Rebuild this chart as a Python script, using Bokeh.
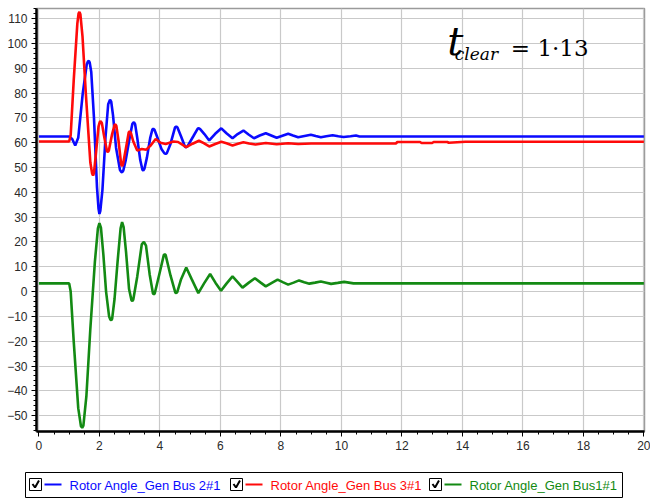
from bokeh.plotting import figure
from bokeh.models import Range1d, SingleIntervalTicker, Label
from bokeh.layouts import column
from bokeh.core.properties import value
from bokeh.embed import file_html
from bokeh.resources import INLINE

# ---------------- data ----------------
series_names = ["Rotor Angle_Gen Bus 2#1", "Rotor Angle_Gen Bus 3#1", "Rotor Angle_Gen Bus1#1"]
series_colors = ["#0a0aff", "#ff0a0a", "#138a13"]

t_bus2 = [0, 1.0, 1.1, 1.2, 1.3, 1.45, 1.58, 1.62, 1.65, 1.68, 1.73, 1.82, 1.92, 1.97, 2.0, 2.03, 2.1,
          2.2, 2.29, 2.35, 2.39, 2.45, 2.55, 2.68, 2.72, 2.75, 2.79, 2.87, 3.0, 3.09, 3.14, 3.18,
          3.25, 3.35, 3.42, 3.45, 3.49, 3.57, 3.68, 3.75, 3.78, 3.82, 3.92, 4.05, 4.15, 4.19, 4.23,
          4.35, 4.5, 4.54, 4.58, 4.7, 4.83, 4.87, 4.91, 5.1, 5.25, 5.29, 5.33, 5.47, 5.63, 5.82,
          6.03, 6.2, 6.4, 6.57, 6.76, 6.93, 7.11, 7.3, 7.5, 7.68, 7.86, 8.05, 8.24, 8.4, 8.57,
          8.78, 8.99, 9.15, 9.32, 9.5, 9.71, 9.9, 10.07, 10.3, 10.48, 10.6, 20.0]
angle_bus2 = [62.5, 62.5, 61.5, 58.9, 62.0, 80.0, 91.5, 92.7, 93.0, 92.3, 88.5, 70.0, 42.0, 33.5, 31.3, 32.5, 41.0,
              62.0, 75.5, 77.3, 76.5, 71.0, 58.0, 49.0, 48.3, 48.1, 48.8, 53.0, 62.0, 67.6, 68.3, 67.5,
              62.0, 53.0, 49.2, 48.8, 49.6, 54.0, 62.0, 65.3, 65.6, 65.2, 62.0, 57.5, 55.7, 55.5, 55.8,
              59.5, 66.2, 66.5, 66.1, 62.5, 58.4, 58.2, 58.5, 62.5, 65.7, 65.8, 65.5, 63.5, 60.9, 63.5,
              65.8, 63.8, 61.8, 63.5, 64.9, 63.3, 61.8, 62.9, 63.8, 62.9, 62.0, 62.8, 63.6, 62.9, 62.2,
              62.7, 63.2, 62.7, 62.2, 62.6, 63.0, 62.6, 62.3, 62.6, 62.9, 62.5, 62.5]

t_bus3 = [0, 1.0, 1.05, 1.15, 1.27, 1.31, 1.34, 1.37, 1.44, 1.55, 1.7, 1.76, 1.79, 1.82, 1.88, 1.97,
          2.01, 2.04, 2.08, 2.15, 2.25, 2.28, 2.31, 2.42, 2.5, 2.53, 2.56, 2.63, 2.72, 2.75, 2.78,
          2.88, 2.97, 3.0, 3.04, 3.12, 3.25, 3.4, 3.55, 3.7, 3.86, 4.02, 4.19, 4.45, 4.6,
          4.87, 5.08, 5.29, 5.45, 5.63, 5.83, 6.03, 6.2, 6.4, 6.58, 6.76, 6.95, 7.16, 7.5, 7.86,
          8.24, 8.57, 9.0, 11.8, 11.85, 12.6, 12.65, 13.0, 13.05, 13.5, 13.55, 14.1, 20.0]
angle_bus3 = [60.5, 60.5, 63.0, 85.0, 108.0, 112.0, 112.7, 111.8, 103.0, 80.0, 52.0, 47.5, 46.8, 47.8, 55.0, 66.5,
              68.3, 68.7, 68.0, 63.0, 56.6, 56.2, 56.8, 63.5, 67.1, 67.4, 66.8, 61.0, 51.2, 50.6, 51.3,
              58.0, 64.2, 64.6, 64.0, 60.5, 56.9, 57.5, 57.2, 59.0, 61.5, 60.0, 59.5, 60.5, 60.3,
              58.2, 59.6, 60.8, 59.8, 58.5, 59.5, 60.4, 59.8, 58.9, 59.6, 60.2, 59.7, 59.3, 59.9, 59.4,
              59.8, 59.5, 59.7, 59.7, 60.3, 60.3, 59.9, 59.9, 60.3, 60.3, 60.0, 60.4, 60.4]

t_bus1 = [0, 1.0, 1.05, 1.15, 1.3, 1.39, 1.43, 1.47, 1.57, 1.7, 1.85, 1.95, 2.0, 2.05, 2.13, 2.22, 2.32,
          2.36, 2.39, 2.42, 2.5, 2.6, 2.7, 2.75, 2.8, 2.88, 2.98, 3.06, 3.09, 3.12, 3.25, 3.4, 3.47,
          3.54, 3.66, 3.77, 3.8, 3.83, 4.0, 4.13, 4.16, 4.19, 4.35, 4.51, 4.54, 4.57, 4.7, 4.87,
          5.05, 5.27, 5.47, 5.66, 5.84, 6.02, 6.2, 6.4, 6.57, 6.73, 6.93, 7.14, 7.32, 7.5, 7.7,
          7.89, 8.06, 8.24, 8.42, 8.6, 8.77, 8.94, 9.13, 9.32, 9.5, 9.66, 9.88, 10.09, 10.4, 20.0]
angle_bus1 = [3.3, 3.3, 0.0, -20.0, -47.0, -54.3, -54.9, -54.0, -42.0, -15.0, 12.0, 25.5, 27.6, 25.8, 15.0, 0.0, -10.0,
              -11.3, -11.6, -11.0, -3.0, 12.0, 25.5, 28.0, 26.0, 16.0, 1.0, -3.5, -3.8, -3.2, 6.0, 19.0, 20.0,
              18.5, 7.0, -0.8, -1.1, -0.7, 8.0, 14.8, 15.0, 14.7, 6.5, -0.4, -0.6, -0.3, 5.0, 9.7,
              5.0, -0.6, 3.5, 7.1, 3.5, 0.3, 3.2, 6.1, 3.8, 1.6, 3.5, 5.4, 3.7, 2.1, 3.5,
              4.8, 3.8, 2.8, 3.6, 4.5, 3.8, 3.2, 3.6, 4.1, 3.6, 3.1, 3.5, 3.9, 3.3, 3.3]

annotation_parts = ["t", "clear", "= 1\u00b713"]

# ---------------- main figure ----------------
p = figure(width=650, height=465, output_backend="svg", toolbar_location=None,
           x_range=Range1d(-0.08, 20.02), y_range=Range1d(-56.4, 114.1),
           min_border_left=36, min_border_right=6, min_border_top=8, min_border_bottom=34,
           background_fill_color="white", border_fill_color="white", frame_align=False)

p.xaxis.ticker = SingleIntervalTicker(interval=2, num_minor_ticks=4)
p.yaxis.ticker = SingleIntervalTicker(interval=10, num_minor_ticks=5)

for ax in (p.xaxis, p.yaxis):
    ax.axis_line_color = "black"
    ax.axis_line_width = 2.5
    ax.major_tick_line_color = "black"
    ax.minor_tick_line_color = "black"
    ax.major_tick_in = 0
    ax.major_tick_out = 5
    ax.minor_tick_in = 0
    ax.minor_tick_out = 3
    ax.major_label_text_font = "Liberation Sans"
    ax.major_label_text_font_size = "12px"
    ax.major_label_text_color = "#2a2a2a"
    ax.major_label_standoff = 4

p.xgrid.grid_line_color = "#c9c9c9"
p.ygrid.grid_line_color = "#c9c9c9"
p.xgrid.grid_line_width = 1.2
p.ygrid.grid_line_width = 1.2
p.outline_line_color = "#9a9a9a"
p.outline_line_width = 1.5

p.line(t_bus2, angle_bus2, line_color=series_colors[0], line_width=2.6)
p.line(t_bus3, angle_bus3, line_color=series_colors[1], line_width=2.6)
p.line(t_bus1, angle_bus1, line_color=series_colors[2], line_width=2.6)

p.add_layout(Label(x=13.5, y=91.6, text=annotation_parts[0], text_font="DejaVu Serif",
                   text_font_style="italic", text_font_size="40px", text_color="black"))
p.add_layout(Label(x=13.75, y=91.8, text=annotation_parts[1], text_font="DejaVu Serif",
                   text_font_style="italic", text_font_size="17px", text_color="black"))
p.add_layout(Label(x=15.6, y=93.0, text=annotation_parts[2], text_font="DejaVu Serif",
                   text_font_size="23px", text_color="black"))

# ---------------- legend strip ----------------
leg = figure(width=650, height=33, output_backend="svg", toolbar_location=None,
             x_range=Range1d(0, 650), y_range=Range1d(0, 33), min_border=0,
             x_axis_location=None, y_axis_location=None, frame_align=False)
leg.grid.visible = False
leg.outline_line_color = None

item_x = [29, 230, 429]
leg.rect(x=323.5, y=13.5, width=597, height=25, fill_color=None, line_color="black", line_width=1)
for i in range(3):
    x0 = item_x[i]
    leg.rect(x=x0 + 6, y=14, width=12, height=12, fill_color="white", line_color="black", line_width=1)
    leg.line([x0 + 3, x0 + 5.5, x0 + 9.5], [14.5, 11, 18], line_color="black", line_width=2)
    leg.line([x0 + 15, x0 + 32], [14, 14], line_color=series_colors[i], line_width=2.2)
    leg.text(x=[x0 + 40], y=[13.5], text=[series_names[i]], text_font=value("Liberation Sans"),
             text_font_size="13px", text_color=series_colors[i], text_baseline="middle")

layout = column(p, leg)
open("out.html", "w").write(file_html(layout, INLINE))
